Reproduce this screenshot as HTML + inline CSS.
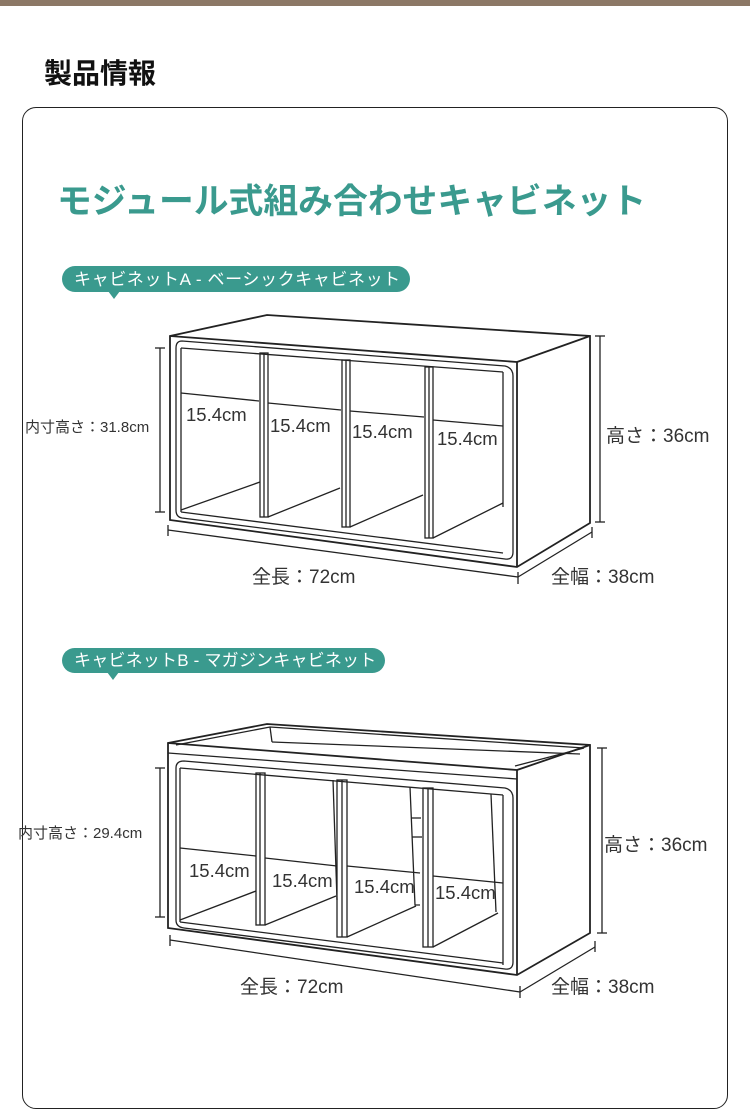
<!DOCTYPE html>
<html><head><meta charset="utf-8"><style>
html,body{margin:0;padding:0;background:#fff;}
body{width:750px;height:1028px;position:relative;overflow:hidden;font-family:"Liberation Sans","Noto Sans CJK JP",sans-serif;}
.strip{position:absolute;left:0;top:0;width:750px;height:6px;background:#8c7866;}
.h{position:absolute;left:44px;top:52px;font-size:28px;font-weight:bold;color:#111;}
.card{position:absolute;left:22px;top:107px;width:704px;height:1000px;border:1.5px solid #222;border-radius:14px;}
.title{position:absolute;left:57px;top:174px;font-size:34.8px;font-weight:bold;color:#3a9a8e;white-space:nowrap;}
svg{position:absolute;left:0;top:0;}
</style></head><body>
<div class="strip"></div>
<div class="h">製品情報</div>
<div class="card"></div>
<div class="title">モジュール式組み合わせキャビネット</div>
<svg width="750" height="1028" viewBox="0 0 750 1028" font-family="Liberation Sans, Noto Sans CJK JP, sans-serif">
<rect x="62" y="266" width="348" height="26" rx="13" fill="#3a9a8e"/>
<polygon points="108,291 120,291 114,299" fill="#3a9a8e"/>
<text x="74" y="285" font-size="17" letter-spacing="0.6" fill="#fff">キャビネットA - ベーシックキャビネット</text>
<rect x="62" y="648" width="323" height="25" rx="12.5" fill="#3a9a8e"/>
<polygon points="107,672 119,672 113,680" fill="#3a9a8e"/>
<text x="74" y="666" font-size="17" letter-spacing="0.2" fill="#fff">キャビネットB - マガジンキャビネット</text>

<g fill="none" stroke="#222" stroke-width="1.3">
<polygon points="170,336 267,315 590,336 590,523 517,567 170,520" stroke-width="1.8"/>
<line x1="170" y1="336" x2="517" y2="362" stroke-width="1.8"/>
<line x1="517" y1="362" x2="590" y2="336" stroke-width="1.8"/>
<line x1="517" y1="362" x2="517" y2="567" stroke-width="1.8"/>
<path d="M182,341 L505,366 Q513,368 513,376 L513,552 Q513,560 505,559 L182,518 Q176,517 176,510 L176,348 Q176,341 182,341 Z"/>
<line x1="181" y1="348" x2="503" y2="372"/>
<line x1="181" y1="348" x2="181" y2="512"/>
<line x1="503" y1="372" x2="503" y2="507"/>
<line x1="181" y1="512" x2="503" y2="553"/>
<line x1="181" y1="510" x2="260" y2="482"/>
<rect x="260" y="353" width="8" height="164"/><line x1="264" y1="353" x2="264" y2="517"/>
<line x1="268" y1="517" x2="340" y2="488"/>
<rect x="342" y="360" width="8" height="167"/><line x1="346" y1="360" x2="346" y2="527"/>
<line x1="350" y1="527" x2="423" y2="495"/>
<rect x="425" y="367" width="8" height="171"/><line x1="429" y1="367" x2="429" y2="538"/>
<line x1="433" y1="538" x2="503" y2="503"/>
<line x1="181" y1="393" x2="259" y2="401"/>
<line x1="268" y1="403" x2="341" y2="410"/>
<line x1="350" y1="411" x2="424" y2="417"/>
<line x1="433" y1="420" x2="503" y2="426"/>
<line x1="160" y1="348" x2="160" y2="512"/><line x1="155" y1="348" x2="165" y2="348"/><line x1="155" y1="512" x2="165" y2="512"/>
<line x1="600" y1="336" x2="600" y2="522"/><line x1="595" y1="336" x2="605" y2="336"/><line x1="595" y1="522" x2="605" y2="522"/>
<line x1="168" y1="530" x2="518" y2="577"/><line x1="168" y1="525" x2="168" y2="536"/><line x1="518" y1="572" x2="518" y2="584"/>
<line x1="518" y1="577" x2="592" y2="532"/><line x1="592" y1="527" x2="592" y2="538"/>

<polygon points="168,743 267,724 590,745 590,933 517,975 168,928" stroke-width="1.8"/>
<line x1="168" y1="743" x2="517" y2="770" stroke-width="1.8"/>
<line x1="517" y1="770" x2="590" y2="745" stroke-width="1.8"/>
<line x1="517" y1="770" x2="517" y2="975" stroke-width="1.8"/>
<polyline points="176,745 270,727 584,748 515,766"/>
<line x1="270" y1="727" x2="272" y2="742"/>
<line x1="272" y1="742" x2="580" y2="754"/>
<line x1="168" y1="753" x2="517" y2="779"/>
<path d="M184,761 L505,788 Q513,790 513,798 L513,962 Q513,970 505,969 L184,928 Q176,927 176,920 L176,768 Q176,761 184,761 Z"/>
<line x1="180" y1="768" x2="503" y2="795"/>
<line x1="180" y1="768" x2="180" y2="922"/>
<line x1="503" y1="795" x2="503" y2="965"/>
<line x1="180" y1="922" x2="503" y2="963"/>
<line x1="180" y1="920" x2="256" y2="891"/>
<rect x="256" y="773" width="9" height="152"/><line x1="260" y1="773" x2="260" y2="925"/>
<line x1="265" y1="925" x2="336" y2="896"/>
<rect x="337" y="780" width="10" height="157"/><line x1="342" y1="780" x2="342" y2="937"/>
<line x1="333" y1="780" x2="337" y2="900"/>
<line x1="347" y1="937" x2="416" y2="906"/>
<rect x="423" y="788" width="10" height="159"/><line x1="428" y1="788" x2="428" y2="947"/>
<polyline points="410,787 415,905 420,905"/>
<line x1="411" y1="818" x2="421" y2="818"/><line x1="412" y1="837" x2="422" y2="837"/>
<line x1="433" y1="947" x2="498" y2="913"/>
<line x1="491" y1="794" x2="496" y2="912"/>
<line x1="180" y1="848" x2="256" y2="856"/>
<line x1="265" y1="858" x2="337" y2="866"/>
<line x1="347" y1="866" x2="420" y2="873"/>
<line x1="433" y1="876" x2="503" y2="883"/>
<line x1="160" y1="768" x2="160" y2="917"/><line x1="155" y1="768" x2="165" y2="768"/><line x1="155" y1="917" x2="165" y2="917"/>
<line x1="602" y1="748" x2="602" y2="933"/><line x1="597" y1="748" x2="607" y2="748"/><line x1="597" y1="933" x2="607" y2="933"/>
<line x1="170" y1="940" x2="520" y2="992"/><line x1="170" y1="935" x2="170" y2="946"/><line x1="520" y1="986" x2="520" y2="998"/>
<line x1="520" y1="992" x2="595" y2="947"/><line x1="595" y1="941" x2="595" y2="952"/>
</g>

<g fill="#333" font-size="18.5">
<text x="186" y="421">15.4cm</text>
<text x="270" y="432">15.4cm</text>
<text x="352" y="438">15.4cm</text>
<text x="437" y="445">15.4cm</text>
<text x="25" y="432" font-size="15">内寸高さ：31.8cm</text>
<text x="606" y="442" font-size="19">高さ：36cm</text>
<text x="252" y="583" font-size="19">全長：72cm</text>
<text x="551" y="583" font-size="19">全幅：38cm</text>

<text x="189" y="877">15.4cm</text>
<text x="272" y="887">15.4cm</text>
<text x="354" y="893">15.4cm</text>
<text x="435" y="899">15.4cm</text>
<text x="18" y="838" font-size="15">内寸高さ：29.4cm</text>
<text x="604" y="851" font-size="19">高さ：36cm</text>
<text x="240" y="993" font-size="19">全長：72cm</text>
<text x="551" y="993" font-size="19">全幅：38cm</text>
</g>
</svg>
</body></html>
